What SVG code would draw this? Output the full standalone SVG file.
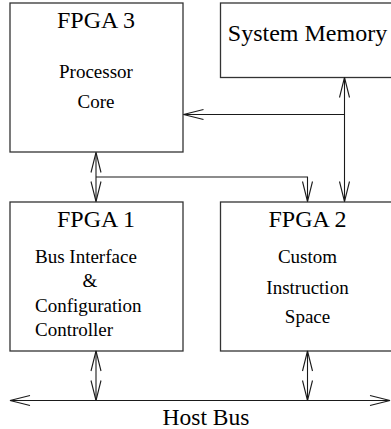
<svg xmlns="http://www.w3.org/2000/svg" width="391" height="429" viewBox="0 0 391 429" font-family="'Liberation Serif', 'DejaVu Serif', serif">
  <style>
    .box { fill: #ffffff; stroke: #333333; stroke-width: 1.3; }
    .wire { fill: none; stroke: #1a1a1a; stroke-width: 1.1; }
    .head { fill: none; stroke: #1a1a1a; stroke-width: 1.1; }
    text { fill: #000000; }
    .title { font-size: 24px; text-anchor: middle; }
    .body { font-size: 19px; }
    .mid { text-anchor: middle; }
  </style>
  <defs>
    <!-- open V arrowhead pointing along +x, tip at origin -->
    <path id="vhead" d="M -20 -5 L 0 0 L -20 5"/>
  </defs>
  <rect width="391" height="429" fill="#ffffff"/>

  <g id="fpga3">
    <rect class="box" x="10" y="3" width="173" height="149"/>
    <text class="title" x="96" y="28">FPGA 3</text>
    <text class="body mid" x="96" y="78">Processor</text>
    <text class="body mid" x="96" y="108">Core</text>
  </g>

  <g id="system-memory">
    <rect class="box" x="220.5" y="3" width="175" height="74.5"/>
    <text class="title" x="307.5" y="40.5">System Memory</text>
  </g>

  <g id="fpga1">
    <rect class="box" x="10" y="202" width="173" height="149"/>
    <text class="title" x="96" y="226.5">FPGA 1</text>
    <text class="body" x="35" y="263">Bus Interface</text>
    <text class="body mid" x="90" y="287">&amp;</text>
    <text class="body" x="35" y="311.5">Configuration</text>
    <text class="body" x="35" y="336">Controller</text>
  </g>

  <g id="fpga2">
    <rect class="box" x="220.5" y="202" width="175" height="149"/>
    <text class="title" x="307.5" y="226.5">FPGA 2</text>
    <text class="body mid" x="307.5" y="263">Custom</text>
    <text class="body mid" x="307.5" y="293.5">Instruction</text>
    <text class="body mid" x="307.5" y="323">Space</text>
  </g>

  <g id="host-bus-label">
    <text class="title" x="206" y="424.5" style="font-size:23.5px">Host Bus</text>
  </g>

  <g id="connectors">
    <!-- FPGA 3 <-> FPGA 1, with branch to FPGA 2 -->
    <path class="wire" d="M 96 152.5 V 201.5"/>
    <path class="wire" d="M 96 177 H 307.5 V 201.5"/>
    <use href="#vhead" class="head" transform="translate(96 152.5) rotate(-90)"/>
    <use href="#vhead" class="head" transform="translate(96 201.5) rotate(90)"/>
    <use href="#vhead" class="head" transform="translate(307.5 201.5) rotate(90)"/>

    <!-- System Memory <-> FPGA 2, with branch to FPGA 3 -->
    <path class="wire" d="M 344.5 77.5 V 201.5"/>
    <path class="wire" d="M 344.5 114.5 H 183.5"/>
    <use href="#vhead" class="head" transform="translate(344.5 77.5) rotate(-90)"/>
    <use href="#vhead" class="head" transform="translate(344.5 201.5) rotate(90)"/>
    <use href="#vhead" class="head" transform="translate(183.5 114.5) rotate(180)"/>

    <!-- FPGA 1 <-> Host Bus -->
    <path class="wire" d="M 96 351 V 400.5"/>
    <use href="#vhead" class="head" transform="translate(96 351) rotate(-90)"/>
    <use href="#vhead" class="head" transform="translate(96 400.5) rotate(90)"/>

    <!-- FPGA 2 <-> Host Bus -->
    <path class="wire" d="M 307.5 351 V 400.5"/>
    <use href="#vhead" class="head" transform="translate(307.5 351) rotate(-90)"/>
    <use href="#vhead" class="head" transform="translate(307.5 400.5) rotate(90)"/>

    <!-- Host Bus -->
    <path class="wire" d="M 10 400.5 H 390"/>
    <use href="#vhead" class="head" transform="translate(10 400.5) rotate(180)"/>
    <use href="#vhead" class="head" transform="translate(390 400.5)"/>
  </g>
</svg>
